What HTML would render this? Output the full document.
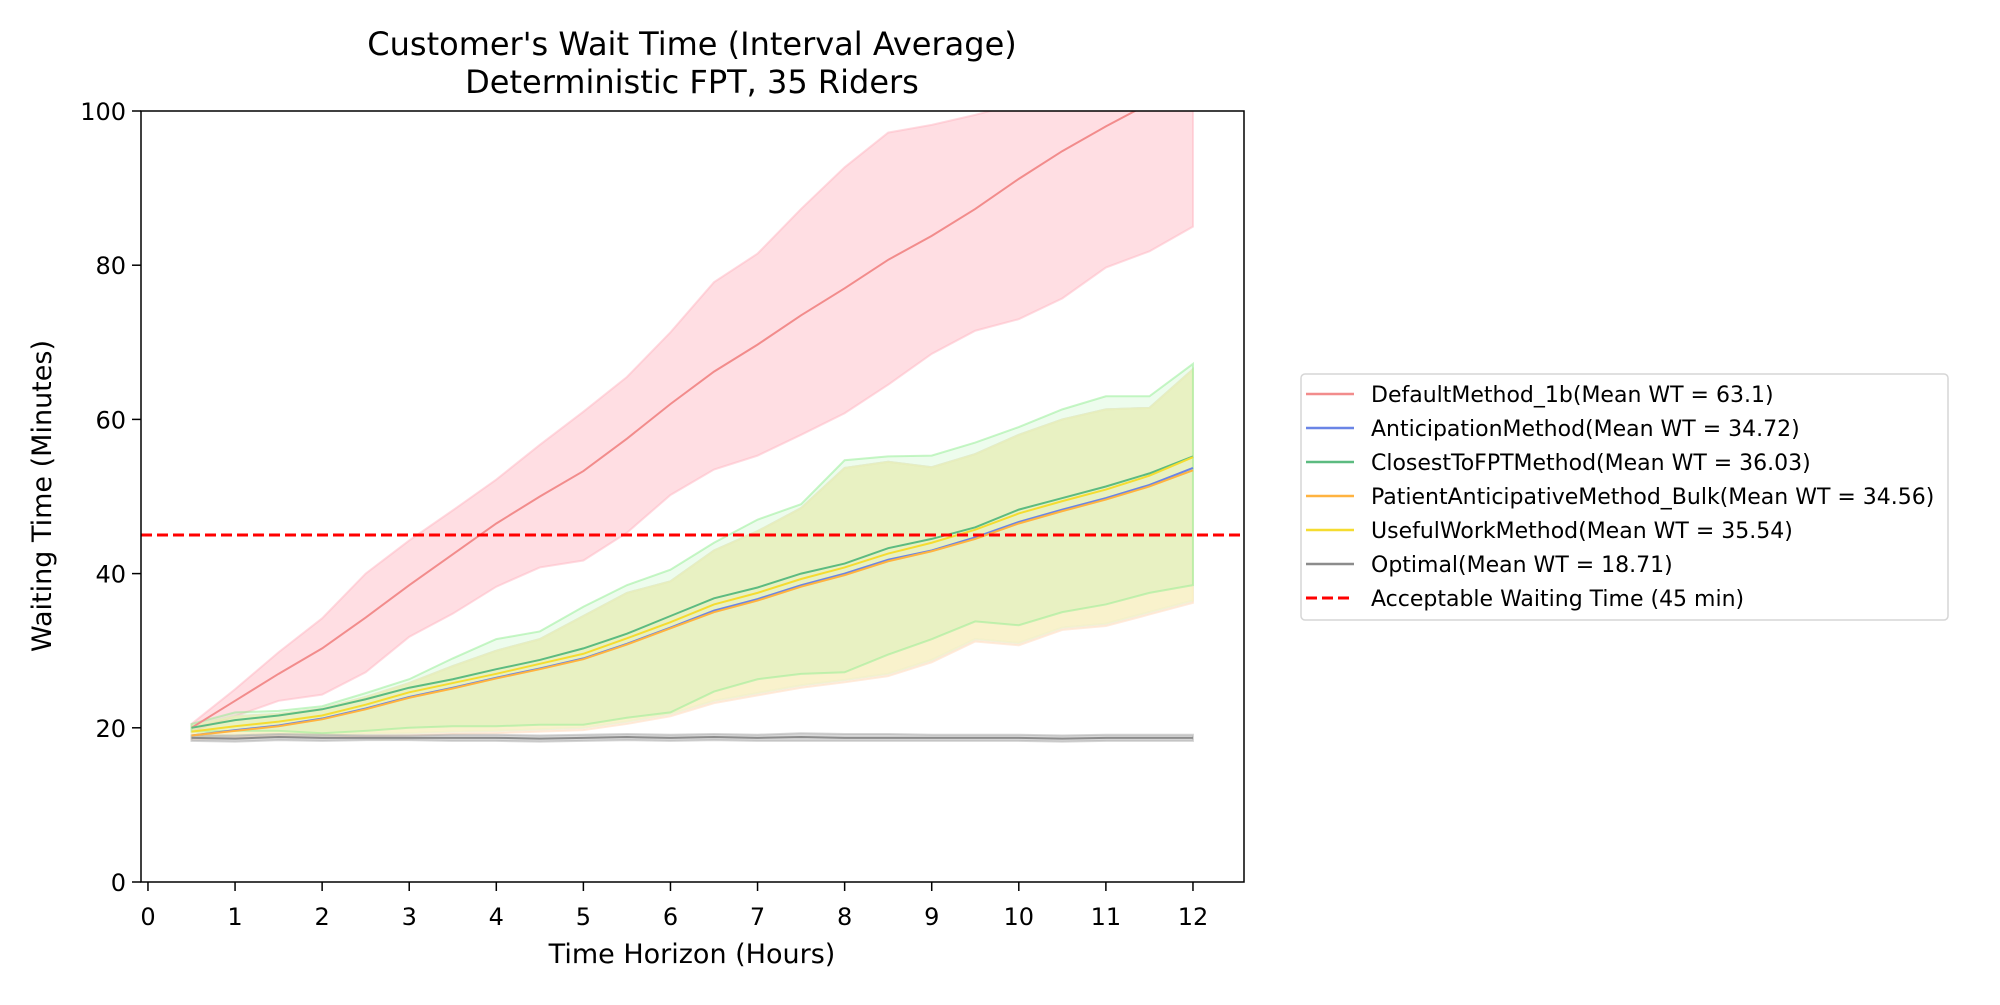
<!DOCTYPE html>
<html><head><meta charset="utf-8"><style>
html,body{margin:0;padding:0;background:#fff;}
svg text{font-family:"DejaVu Sans","Liberation Sans",sans-serif;fill:#000;}
</style></head><body>
<svg id="chart" width="2000" height="1000" viewBox="0 0 2000 1000" xmlns="http://www.w3.org/2000/svg">
<rect width="2000" height="1000" fill="#fff"/>
<text x="692" y="55" font-size="32" text-anchor="middle">Customer's Wait Time (Interval Average)</text>
<text x="692" y="93" font-size="32" text-anchor="middle">Deterministic FPT, 35 Riders</text>
<defs><clipPath id="plotclip"><rect x="141" y="111" width="1103" height="771"/></clipPath></defs>
<g id="bands" clip-path="url(#plotclip)"></g>
<g id="lines" clip-path="url(#plotclip)"></g>
<g id="axes"></g>
<g id="legend"></g>
<text x="692" y="963" font-size="27" text-anchor="middle">Time Horizon (Hours)</text>
<text transform="translate(51,496) rotate(-90)" font-size="27" text-anchor="middle">Waiting Time (Minutes)</text>
</svg>
<script>
const hours=[0.5,1,1.5,2,2.5,3,3.5,4,4.5,5,5.5,6,6.5,7,7.5,8,8.5,9,9.5,10,10.5,11,11.5,12];
const defMean=[20,23.5,27,30.3,34.3,38.5,42.5,46.5,50,53.3,57.5,62,66.2,69.7,73.5,77,80.7,83.8,87.3,91.2,94.8,98,101,104];
const defHi=[20.5,25,29.8,34.2,40,44.3,48.2,52.2,56.7,61,65.5,71.3,77.8,81.5,87.3,92.7,97.2,98.2,99.5,101,102,104,106,108];
const defLo=[19.5,21.5,23.5,24.3,27.2,31.8,34.8,38.3,40.8,41.7,45.3,50.2,53.5,55.3,58,60.8,64.5,68.5,71.5,73,75.7,79.7,81.8,85];
const antMean=[19,19.7,20.3,21.2,22.5,24,25.2,26.5,27.7,29,30.9,33,35.2,36.7,38.5,40,41.8,43,44.7,46.7,48.3,49.8,51.5,53.7];
const patMean=[19,19.6,20.2,21.1,22.4,23.9,25.1,26.4,27.6,28.9,30.8,32.9,35,36.5,38.3,39.8,41.6,42.9,44.5,46.5,48.1,49.6,51.3,53.4];
const cloMean=[20,21,21.6,22.4,23.7,25.2,26.3,27.6,28.8,30.3,32.2,34.5,36.8,38.2,40,41.3,43.3,44.5,46,48.3,49.8,51.3,53,55.2];
const useMean=[19.5,20.2,20.8,21.6,23,24.6,25.8,27,28.3,29.6,31.6,33.7,36,37.5,39.3,40.8,42.6,44,45.7,47.8,49.4,50.9,52.7,55.1];
const cloHi=[20.5,22,22.2,22.8,24.5,26.3,29,31.5,32.5,35.7,38.5,40.5,44,47,49,54.7,55.2,55.3,57,59,61.3,63,63,67.2];
const cloLo=[19.5,19.6,19.6,19.3,19.6,20,20.2,20.2,20.4,20.4,21.3,22,24.7,26.3,27,27.2,29.5,31.5,33.8,33.3,35,36,37.5,38.5];
const othHi=[20.3,21.5,21.8,22.5,24,25.8,28,30,31.5,34.5,37.5,39,43,45.5,48.5,53.7,54.5,53.8,55.5,58,60,61.3,61.5,66.5];
const othLo=[18.8,19,19.2,19,19.2,19.3,19.5,19.6,19.8,20,20.8,21.8,23.5,24.5,25.5,26.2,27,28.8,31.5,31,33,33.5,35,36.5];
const optMean=[18.7,18.6,18.8,18.7,18.7,18.7,18.7,18.7,18.6,18.7,18.8,18.7,18.8,18.7,18.8,18.7,18.7,18.7,18.7,18.7,18.6,18.7,18.7,18.7];
const optHi=[19,19,19.2,19.1,19,19,19.1,19.1,19,19.1,19.2,19.1,19.2,19.1,19.3,19.2,19.2,19.1,19.1,19.1,19,19.1,19.1,19.1];
const optLo=[18.3,18.2,18.4,18.3,18.4,18.4,18.3,18.3,18.2,18.3,18.4,18.3,18.4,18.3,18.3,18.3,18.3,18.3,18.3,18.3,18.2,18.3,18.3,18.3];
const xTicks=[0,1,2,3,4,5,6,7,8,9,10,11,12];
const yTicks=[0,20,40,60,80,100];
const threshold=45;
const legendLabels=["DefaultMethod_1b(Mean WT = 63.1)","AnticipationMethod(Mean WT = 34.72)","ClosestToFPTMethod(Mean WT = 36.03)","PatientAnticipativeMethod_Bulk(Mean WT = 34.56)","UsefulWorkMethod(Mean WT = 35.54)","Optimal(Mean WT = 18.71)","Acceptable Waiting Time (45 min)"];

const L=141,R=1244,T=111,B=882,xmin=-0.08,xmax=12.586;
const X=v=>L+(v-xmin)/(xmax-xmin)*(R-L);
const Y=v=>B-v/100*(B-T);
const NS="http://www.w3.org/2000/svg";
function mk(tag,attrs,parent){const e=document.createElementNS(NS,tag);for(const k in attrs)e.setAttribute(k,attrs[k]);parent.appendChild(e);return e;}
const bands=document.getElementById('bands'),lines=document.getElementById('lines'),axes=document.getElementById('axes'),leg=document.getElementById('legend');
function band(lo,hi,fill,op,edge,name){
  let d='M'+hours.map((h,i)=>X(h)+','+Y(hi[i])).join('L')+'L'+hours.slice().reverse().map((h,j)=>{const i=hours.length-1-j;return X(h)+','+Y(lo[i]);}).join('L')+'Z';
  const p=mk('path',{d:d,fill:fill,'fill-opacity':op,stroke:edge,'stroke-opacity':0.5,'stroke-width':2},bands);
  
  
}
function line(arr,color,name){
  const p=mk('polyline',{points:hours.map((h,i)=>X(h)+','+Y(arr[i])).join(' '),fill:'none',stroke:color,'stroke-width':2},lines);
  
  
}
band(defLo,defHi,'#ffb6c1',0.45,'#ffb6c1','default-band');
band(othLo,othHi,'#add8e6',0.15,'#add8e6','anticipation-band');
band(othLo.map(v=>v-0.3),othHi,'#ffdab9',0.3,'#ffdab9','patient-band');
band(othLo,othHi,'#fff59a',0.35,'#fffacd','useful-band');
band(cloLo,cloHi,'#90ee90',0.16,'#90ee90','closest-band');
band(optLo,optHi,'#a9a9a9',0.45,'#a9a9a9','optimal-band');
line(defMean,'#f28c8c','default-line');
line(antMean,'#6a85e6','anticipation-line');
line(cloMean,'#5cbb80','closest-line');
line(patMean,'#ffb340','patient-line');
line(useMean,'#f5dc30','useful-line');
line(optMean,'#8c8c8c','optimal-line');
const th=mk('line',{x1:L,x2:R,y1:Y(threshold),y2:Y(threshold),stroke:'#ff0000','stroke-width':3,'stroke-dasharray':'11,5'},lines);


const frame=mk('rect',{x:L,y:T,width:R-L,height:B-T,fill:'none',stroke:'#000','stroke-width':1.5},axes);


xTicks.forEach(t=>{
  mk('line',{x1:X(t),x2:X(t),y1:B,y2:B+9,stroke:'#000','stroke-width':1.5},axes);
  const tx=mk('text',{x:X(t),y:B+43,'font-size':24,'text-anchor':'middle'},axes);tx.textContent=t;
  
  
});
yTicks.forEach(t=>{
  mk('line',{x1:L-9,x2:L,y1:Y(t),y2:Y(t),stroke:'#000','stroke-width':1.5},axes);
  const tx=mk('text',{x:L-15,y:Y(t)+9,'font-size':24,'text-anchor':'end'},axes);tx.textContent=t;
  
  
});
const lb=mk('rect',{x:1301,y:374,width:647,height:246,rx:4,fill:'#fff',stroke:'#d6d6d6','stroke-width':1.5},leg);


const legColors=['#f28c8c','#6a85e6','#5cbb80','#ffb340','#f5dc30','#8c8c8c','#ff0000'];
legendLabels.forEach((s,i)=>{
  const y=394+i*34;
  const ln=mk('line',{x1:1306,x2:1354,y1:y,y2:y,stroke:legColors[i],'stroke-width':i==6?3:2.5,'stroke-dasharray':i==6?'11,5':'none'},leg);
  
  
  const tx=mk('text',{x:1371,y:y+8,'font-size':22},leg);tx.textContent=s;
  
  
});
</script>
</body></html>
